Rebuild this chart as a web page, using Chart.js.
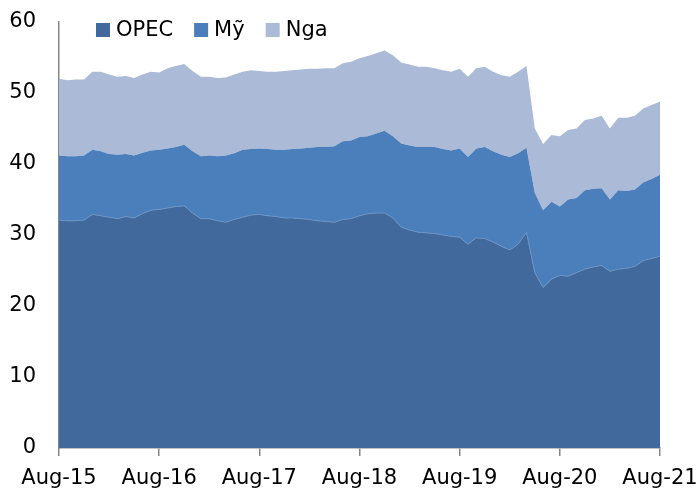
<!DOCTYPE html>
<html>
<head>
<meta charset="utf-8">
<script src="https://cdn.jsdelivr.net/npm/chart.js@4/dist/chart.umd.min.js"></script>
<style>
  html, body { margin: 0; padding: 0; background: #fff; }
  #wrap { width: 698px; height: 493px; }
</style>
</head>
<body>
<div id="wrap"><canvas id="chart" width="698" height="493"></canvas></div>
<script>
// monthly, Aug-15 .. Aug-21
const monthNames = ["Aug", "Sep", "Oct", "Nov", "Dec", "Jan", "Feb", "Mar", "Apr", "May", "Jun", "Jul"];
const startYear = 15;
const yearTicks = ["Aug-15", "Aug-16", "Aug-17", "Aug-18", "Aug-19", "Aug-20", "Aug-21"];

const labels = [];
for (let i = 0; i <= 72; i++) {
  const yr = startYear + Math.floor((i + 7) / 12);
  labels.push(monthNames[i % 12] + "-" + yr);
}

const opec = [
  32.1, 32.0, 32.0, 32.1, 32.9, 32.7, 32.5, 32.3, 32.6, 32.4, 33.0, 33.5,
  33.6, 33.8, 34.0, 34.1, 33.1, 32.3, 32.3, 32.0, 31.8, 32.2, 32.5, 32.8,
  32.9, 32.7, 32.6, 32.4, 32.4, 32.3, 32.2, 32.0, 31.9, 31.8, 32.2, 32.3,
  32.7, 33.0, 33.1, 33.1, 32.4, 31.1, 30.7, 30.4, 30.3, 30.2, 30.0, 29.8,
  29.7, 28.7, 29.6, 29.5, 29.0, 28.4, 27.9, 28.7, 30.4, 24.7, 22.6, 23.8,
  24.3, 24.2, 24.7, 25.2, 25.5, 25.7, 24.9, 25.2, 25.3, 25.6, 26.4, 26.7,
  27.0
];
const usa = [
  9.1, 9.1, 9.1, 9.1, 9.1, 9.1, 8.9, 9.0, 8.8, 8.8, 8.6, 8.4,
  8.4, 8.4, 8.4, 8.6, 8.7, 8.8, 8.9, 9.1, 9.4, 9.3, 9.5, 9.3,
  9.3, 9.4, 9.4, 9.6, 9.7, 9.9, 10.1, 10.4, 10.5, 10.7, 11.0, 11.0,
  11.1, 10.9, 11.2, 11.6, 11.5, 11.8, 11.9, 12.0, 12.1, 12.2, 12.1, 12.1,
  12.5, 12.3, 12.6, 12.9, 12.8, 12.9, 13.1, 12.8, 11.9, 11.2, 10.9, 10.9,
  9.7, 10.8, 10.5, 11.1, 11.0, 10.9, 10.1, 11.1, 10.9, 10.8, 11.0, 11.2,
  11.5
];
const russia = [
  10.8, 10.7, 10.8, 10.7, 11.0, 11.2, 11.2, 11.0, 11.0, 10.9, 11.0, 11.1,
  10.9, 11.3, 11.4, 11.4, 11.3, 11.2, 11.1, 11.0, 11.0, 11.1, 11.0, 11.1,
  10.9, 10.9, 11.0, 11.1, 11.1, 11.1, 11.1, 11.0, 11.1, 11.0, 11.0, 11.1,
  11.1, 11.3, 11.3, 11.3, 11.4, 11.4, 11.4, 11.3, 11.3, 11.1, 11.1, 11.1,
  11.2, 11.3, 11.3, 11.3, 11.2, 11.2, 11.3, 11.5, 11.5, 9.1, 9.3, 9.4,
  9.9, 9.8, 9.8, 9.9, 9.9, 10.2, 10.0, 10.2, 10.3, 10.4, 10.4, 10.4,
  10.3
];

const FONT = "'DejaVu Sans', Verdana, sans-serif";
const FONT_SIZE = 21;
const AXIS_GREY = "#868686";

// legend drawn inside the plot area, top left
const insideLegend = {
  id: "insideLegend",
  afterDraw(chart) {
    const ctx = chart.ctx;
    const area = chart.chartArea;
    let x = area.left + 37;
    const y = area.top + 8;
    ctx.save();
    ctx.font = FONT_SIZE + "px " + FONT;
    ctx.textBaseline = "middle";
    ctx.textAlign = "left";
    chart.data.datasets.forEach((ds) => {
      ctx.fillStyle = ds.backgroundColor;
      ctx.fillRect(x, y - 7, 14, 14);
      ctx.fillStyle = "#000";
      ctx.fillText(ds.label, x + 20, y + 1);
      x += 20 + ctx.measureText(ds.label).width + 21;
    });
    ctx.restore();
  }
};

const ctx = document.getElementById("chart").getContext("2d");
new Chart(ctx, {
  type: "line",
  data: {
    labels: labels,
    datasets: [
      {
        label: "OPEC",
        data: opec,
        backgroundColor: "#41699b",
        borderColor: "#6a93c6",
        borderWidth: 1,
        fill: "origin",
      },
      {
        label: "Mỹ",
        data: usa,
        backgroundColor: "#4b7fbb",
        borderColor: "#4b7fbb",
        borderWidth: 0,
        fill: "-1",
      },
      {
        label: "Nga",
        data: russia,
        backgroundColor: "#aabad7",
        borderColor: "#aabad7",
        borderWidth: 0,
        fill: "-1",
      },
    ],
  },
  options: {
    responsive: false,
    animation: false,
    layout: { padding: { top: 22, right: 38, left: 0, bottom: 0 } },
    elements: { point: { radius: 0 }, line: { tension: 0 } },
    plugins: {
      legend: { display: false },
      tooltip: { enabled: false },
    },
    scales: {
      x: {
        offset: false,
        border: { display: true, color: AXIS_GREY, width: 1.5 },
        grid: {
          drawOnChartArea: false,
          drawTicks: true,
          tickLength: 8,
          color: AXIS_GREY,
          tickColor: AXIS_GREY,
          lineWidth: 1.5,
        },
        ticks: {
          autoSkip: false,
          maxRotation: 0,
          padding: 10,
          color: "#000",
          font: { family: FONT, size: FONT_SIZE },
          callback: function (val) {
            const lab = this.getLabelForValue(val);
            return yearTicks.includes(lab) ? lab : null;
          },
        },
        afterFit(scale) {
          scale.height = 45;
          scale.paddingLeft = 0;
          scale.paddingRight = 0;
        },
      },
      y: {
        stacked: true,
        min: 0,
        max: 60,
        border: { display: true, color: AXIS_GREY, width: 1.5 },
        grid: { display: false, drawTicks: false },
        ticks: {
          stepSize: 10,
          padding: 23,
          color: "#000",
          font: { family: FONT, size: FONT_SIZE },
        },
        afterFit(scale) {
          scale.width = 59;
          scale.paddingTop = 0;
          scale.paddingBottom = 0;
        },
      },
    },
  },
  plugins: [insideLegend],
});
</script>
</body>
</html>
